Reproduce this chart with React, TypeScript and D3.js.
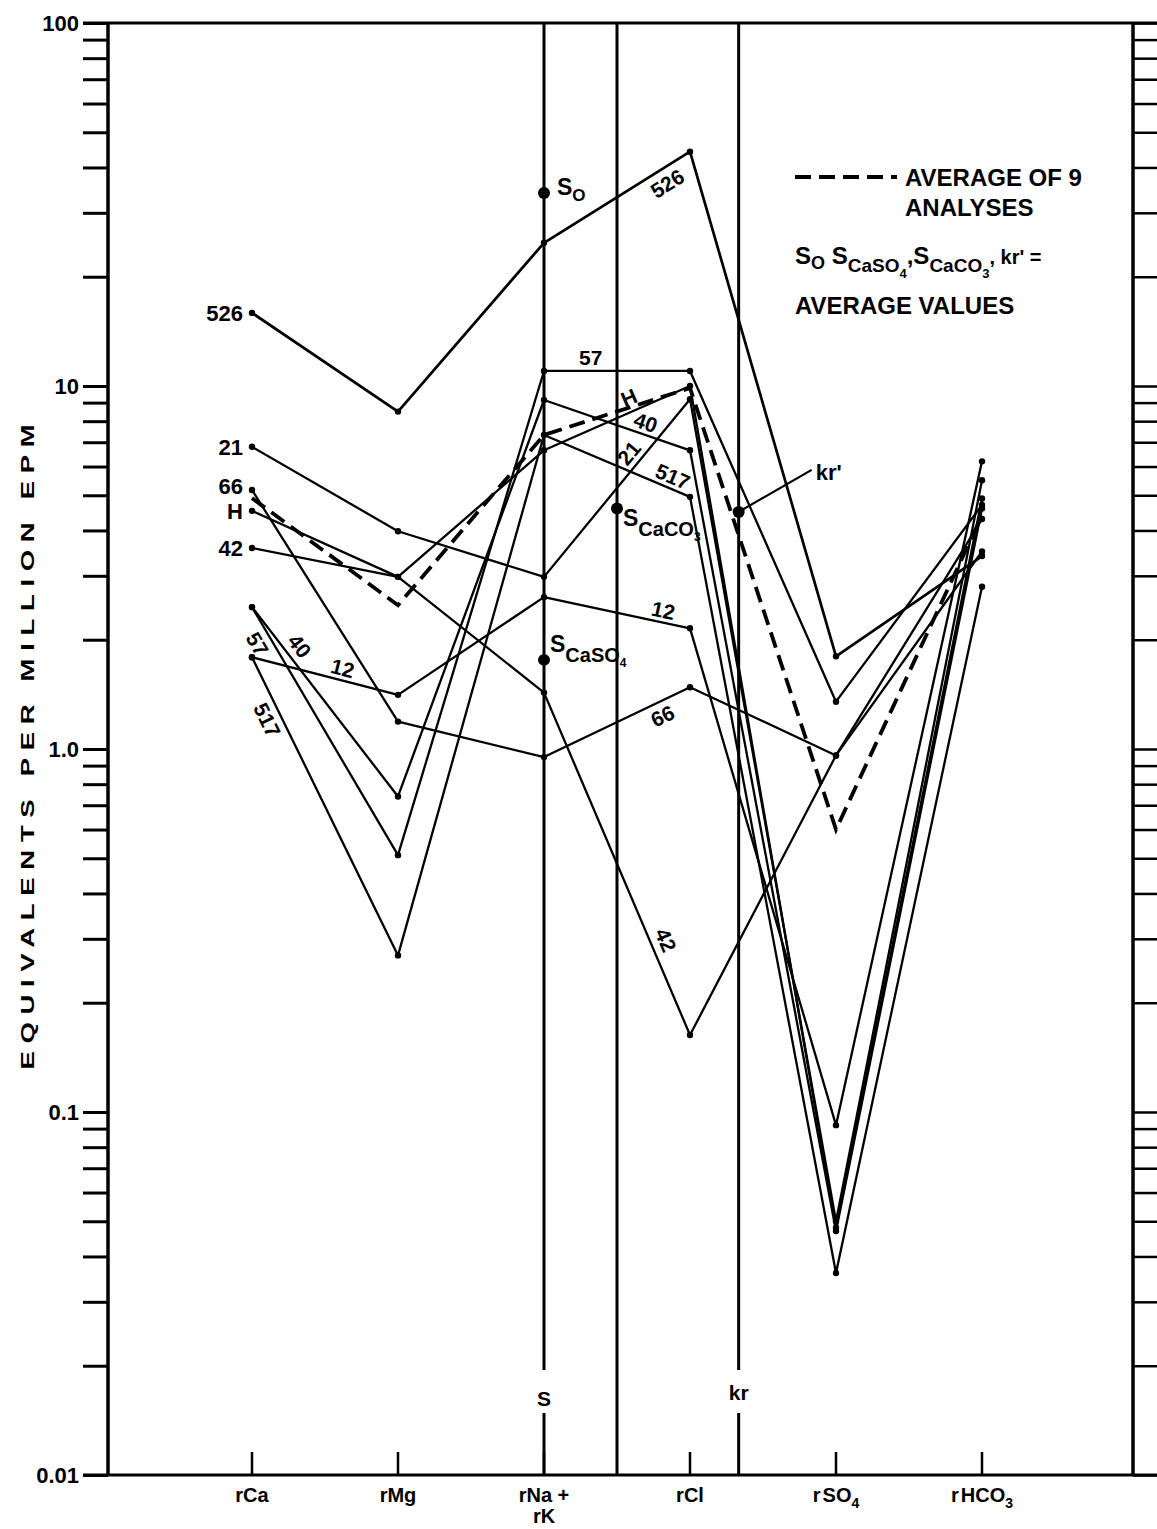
import { useEffect, useRef } from 'react'
import * as d3 from 'd3'

// constituents along the x axis
const categories = ['rCa', 'rMg', 'rNa+rK', 'rCl', 'rSO4', 'rHCO3']

// y axis (log) tick labels
const yMajorValues = [0.01, 0.1, 1, 10, 100]
const yMajorLabels = ['0.01', '0.1', '1.0', '10', '100']

// equivalents per million, one value per constituent
const sampleIds = ['526', '21', '66', 'H', '42', '57', '40', '12', '517']
const sample526 = [15.9, 8.5, 24.8, 44.2, 1.8, 3.4]
const sample21 = [6.8, 3.98, 2.98, 9.2, 0.05, 5.5]
const sample66 = [5.17, 1.19, 0.95, 1.48, 0.96, 3.5]
const sampleH = [4.53, 2.98, 6.65, 10.0, 0.048, 4.9]
const sample42 = [3.58, 2.98, 1.43, 0.163, 0.96, 4.3]
const sample57 = [2.46, 0.51, 11.0, 11.0, 1.35, 4.7]
const sample40 = [2.46, 0.74, 9.15, 6.65, 0.047, 4.6]
const sample12 = [1.79, 1.41, 2.62, 2.15, 0.092, 6.2]
const sample517 = [1.79, 0.27, 7.33, 4.95, 0.036, 2.8]
const average9 = [4.91, 2.49, 7.33, 9.87, 0.6, 4.4]

// average values of saturation / equilibrium (position on category index axis)
const markerNames = ['So', 'SCaSO4', 'SCaCO3', "kr'"]
const markerPos = [2, 2, 2.5, 3 + 1 / 3]
const markerValues = [34.0, 1.76, 4.6, 4.5]

// vertical reference lines (category index position)
const refLinePos = [2, 2.5, 3 + 1 / 3]
const refLineLabels = ['S', '', 'kr']

const W = 1157
const H = 1529
const FONT = "'Liberation Sans', Arial, Helvetica, sans-serif"

const App = () => {
  const svgRef = useRef<SVGSVGElement>(null)

  useEffect(() => {
    if (!svgRef.current) return
    const svg = d3.select(svgRef.current)
    svg.selectAll('*').remove()

    const left = 108
    const right = 1133
    const top = 23
    const bottom = 1475

    const x = d3.scaleLinear().domain([0, categories.length - 1]).range([252, 982])
    const y = d3.scaleLog().domain([0.01, 100]).range([bottom, top])

    const series: Record<string, number[]> = {
      '526': sample526, '21': sample21, '66': sample66, H: sampleH, '42': sample42,
      '57': sample57, '40': sample40, '12': sample12, '517': sample517
    }

    const g = svg.append('g').style('font-family', FONT).style('font-weight', 'bold')

    // left axis ticks
    const leftAxis = g.append('g')
      .attr('transform', `translate(${left},0)`)
      .call(d3.axisLeft(y).tickValues(y.ticks()).tickSize(25).tickFormat(() => ''))
    leftAxis.select('.domain').remove()
    leftAxis.selectAll('line').attr('stroke', '#000').attr('stroke-width', 3)

    const rightAxis = g.append('g')
      .attr('transform', `translate(${right},0)`)
      .call(d3.axisRight(y).tickValues(y.ticks()).tickSize(24).tickFormat(() => ''))
    rightAxis.select('.domain').remove()
    rightAxis.selectAll('line').attr('stroke', '#000').attr('stroke-width', 2.5)

    // frame
    g.append('line').attr('x1', left).attr('x2', left).attr('y1', top).attr('y2', bottom)
      .attr('stroke', '#000').attr('stroke-width', 3.5)
    g.append('line').attr('x1', right).attr('x2', right).attr('y1', top).attr('y2', bottom)
      .attr('stroke', '#000').attr('stroke-width', 3.5)
    g.append('line').attr('x1', 83).attr('x2', W).attr('y1', top).attr('y2', top)
      .attr('stroke', '#000').attr('stroke-width', 3)
    g.append('line').attr('x1', 83).attr('x2', W).attr('y1', bottom).attr('y2', bottom)
      .attr('stroke', '#000').attr('stroke-width', 3)

    // major labels
    yMajorValues.forEach((v, i) => {
      g.append('text')
        .attr('x', 79).attr('y', y(v) + 8)
        .attr('text-anchor', 'end')
        .style('font-size', '22px')
        .text(yMajorLabels[i])
    })

    // y title (wide drafting-style lettering)
    g.append('text')
      .attr('transform', `translate(34,747) rotate(-90) scale(1.45,1)`)
      .attr('text-anchor', 'middle')
      .attr('textLength', 445)
      .attr('lengthAdjust', 'spacing')
      .style('font-size', '19px')
      .text('EQUIVALENTS PER MILLION EPM')

    // category ticks
    categories.forEach((c, i) => {
      g.append('line')
        .attr('x1', x(i)).attr('x2', x(i))
        .attr('y1', bottom).attr('y2', bottom - 23)
        .attr('stroke', '#000').attr('stroke-width', 2.5)
    })

    // category labels
    const catLabel = (i: number, parts: [string, boolean][], dy = 0) => {
      const t = g.append('text')
        .attr('x', x(i)).attr('y', 1502 + dy)
        .attr('text-anchor', 'middle')
        .style('font-size', '20px')
      parts.forEach(([s, sub], k) => {
        t.append('tspan')
          .attr('dy', sub ? 6 : 0)
          .attr('dx', k > 0 && !sub ? 2 : 0)
          .style('font-size', sub ? '14px' : '20px')
          .text(s)
      })
    }
    catLabel(0, [['rCa', false]])
    catLabel(1, [['rMg', false]])
    catLabel(2, [['rNa +', false]])
    catLabel(2, [['rK', false]], 21)
    catLabel(3, [['rCl', false]])
    catLabel(4, [['r', false], ['SO', false], ['4', true]])
    catLabel(5, [['r', false], ['HCO', false], ['3', true]])

    // reference vertical lines
    refLinePos.forEach((p, i) => {
      const xp = x(p)
      const lab = refLineLabels[i]
      if (lab) {
        g.append('line').attr('x1', xp).attr('x2', xp).attr('y1', top).attr('y2', 1370)
          .attr('stroke', '#000').attr('stroke-width', 3)
        g.append('line').attr('x1', xp).attr('x2', xp).attr('y1', 1413).attr('y2', bottom)
          .attr('stroke', '#000').attr('stroke-width', 3)
        g.append('text').attr('x', xp).attr('y', 1400 + (lab === 'S' ? 6 : 0))
          .attr('text-anchor', 'middle')
          .style('font-size', '21px')
          .text(lab)
      } else {
        g.append('line').attr('x1', xp).attr('x2', xp).attr('y1', top).attr('y2', bottom)
          .attr('stroke', '#000').attr('stroke-width', 3)
      }
    })

    const line = d3.line<number>().x((_, i) => x(i)).y(v => y(v))

    // samples
    sampleIds.forEach(id => {
      const vals = series[id]
      g.append('path')
        .attr('d', line(vals))
        .attr('fill', 'none')
        .attr('stroke', '#000')
        .attr('stroke-width', id === '526' ? 2.7 : 2.3)
        .attr('stroke-linejoin', 'round')
      vals.forEach((v, i) => {
        g.append('circle').attr('cx', x(i)).attr('cy', y(v)).attr('r', 3.2).attr('fill', '#000')
      })
    })

    // average
    g.append('path')
      .attr('d', line(average9))
      .attr('fill', 'none')
      .attr('stroke', '#000')
      .attr('stroke-width', 3.8)
      .attr('stroke-dasharray', '16,8')

    // start labels at rCa
    const startLabels = ['526', '21', '66', 'H', '42']
    startLabels.forEach(id => {
      g.append('text')
        .attr('x', x(0) - 9)
        .attr('y', y(series[id][0]) + (id === '66' ? 4 : 8))
        .attr('text-anchor', 'end')
        .style('font-size', '22px')
        .text(id)
    })

    // labels along segments
    const lineLabels: { id: string; seg: number; t: number; off: number }[] = [
      { id: '526', seg: 2, t: 0.79, off: 15 },
      { id: '57', seg: 2, t: 0.32, off: -13 },
      { id: 'H', seg: 2, t: 0.62, off: -14 },
      { id: '40', seg: 2, t: 0.67, off: -12 },
      { id: '21', seg: 2, t: 0.65, off: -13 },
      { id: '517', seg: 2, t: 0.85, off: -12 },
      { id: '12', seg: 2, t: 0.8, off: -12 },
      { id: '66', seg: 2, t: 0.77, off: 14 },
      { id: '42', seg: 2, t: 0.74, off: -15 },
      { id: '57', seg: 0, t: 0.12, off: 14 },
      { id: '40', seg: 0, t: 0.25, off: -14 },
      { id: '12', seg: 0, t: 0.6, off: -12 },
      { id: '517', seg: 0, t: 0.19, off: 14 }
    ]
    lineLabels.forEach(l => {
      const vals = series[l.id]
      const x0 = x(l.seg), y0 = y(vals[l.seg])
      const x1 = x(l.seg + 1), y1 = y(vals[l.seg + 1])
      const ang = Math.atan2(y1 - y0, x1 - x0)
      const px = x0 + (x1 - x0) * l.t - Math.sin(ang) * l.off
      const py = y0 + (y1 - y0) * l.t + Math.cos(ang) * l.off
      g.append('text')
        .attr('transform', `translate(${px},${py}) rotate(${(ang * 180) / Math.PI})`)
        .attr('text-anchor', 'middle')
        .attr('dominant-baseline', 'central')
        .style('font-size', '21px')
        .text(l.id)
    })

    // average-value markers
    markerNames.forEach((name, i) => {
      const mx = x(markerPos[i])
      const my = y(markerValues[i])
      g.append('circle').attr('cx', mx).attr('cy', my).attr('r', 6).attr('fill', '#000')
      if (name === "kr'") {
        g.append('line').attr('x1', mx).attr('y1', my).attr('x2', mx + 73).attr('y2', my - 42)
          .attr('stroke', '#000').attr('stroke-width', 2.2)
        g.append('text').attr('x', mx + 77).attr('y', my - 32).style('font-size', '22px').text("kr'")
        return
      }
      const t = g.append('text').style('font-size', '23px')
      if (name === 'So') {
        t.attr('x', mx + 13).attr('y', my + 2)
        t.append('tspan').text('S')
        t.append('tspan').attr('dy', 6).style('font-size', '17px').text('O')
      } else if (name === 'SCaSO4') {
        t.attr('x', mx + 6).attr('y', my - 8)
        t.append('tspan').text('S')
        t.append('tspan').attr('dy', 10).style('font-size', '20px').text('CaSO')
        t.append('tspan').attr('dy', 5).style('font-size', '12px').text('4')
      } else {
        t.attr('x', mx + 6).attr('y', my + 18)
        t.append('tspan').text('S')
        t.append('tspan').attr('dy', 10).style('font-size', '20px').text('CaCO')
        t.append('tspan').attr('dy', 5).style('font-size', '12px').text('3')
      }
    })

    // legend
    g.append('line').attr('x1', 795).attr('x2', 897).attr('y1', 177).attr('y2', 177)
      .attr('stroke', '#000').attr('stroke-width', 3.8).attr('stroke-dasharray', '16,8')
    g.append('text').attr('x', 905).attr('y', 186).style('font-size', '24px').text('AVERAGE OF 9')
    g.append('text').attr('x', 905).attr('y', 216).style('font-size', '24px').text('ANALYSES')
    const l3 = g.append('text').attr('x', 795).attr('y', 264).style('font-size', '24px')
    l3.append('tspan').text('S')
    l3.append('tspan').attr('dy', 5).style('font-size', '18px').text('O')
    l3.append('tspan').attr('dy', -5).text(' S')
    l3.append('tspan').attr('dy', 8).style('font-size', '19px').text('CaSO')
    l3.append('tspan').attr('dy', 6).style('font-size', '13px').text('4')
    l3.append('tspan').attr('dy', -14).text(',S')
    l3.append('tspan').attr('dy', 8).style('font-size', '19px').text('CaCO')
    l3.append('tspan').attr('dy', 6).style('font-size', '13px').text('3')
    l3.append('tspan').attr('dy', -14).style('font-size', '20px').text(", kr' =")
    g.append('text').attr('x', 795).attr('y', 314).style('font-size', '24px').text('AVERAGE VALUES')
  }, [])

  return (
    <svg
      ref={svgRef}
      width={W}
      height={H}
      viewBox={`0 0 ${W} ${H}`}
      style={{ position: 'absolute', left: 0, top: 0, background: '#fff' }}
    />
  )
}

export default App
